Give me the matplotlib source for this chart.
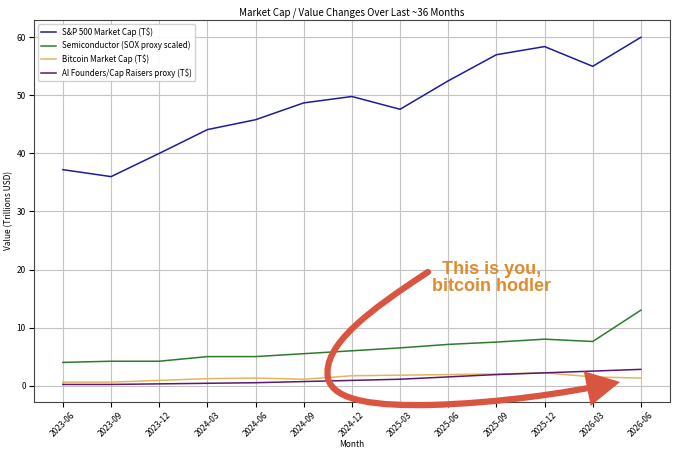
import matplotlib
matplotlib.use("Agg")
import matplotlib.pyplot as plt
from matplotlib.path import Path
from matplotlib.patches import FancyArrowPatch

months = ["2023-06", "2023-09", "2023-12", "2024-03", "2024-06", "2024-09", "2024-12",
          "2025-03", "2025-06", "2025-09", "2025-12", "2026-03", "2026-06"]
sp500 = [37.2, 36.0, 40.0, 44.1, 45.8, 48.7, 49.8, 47.6, 52.5, 57.0, 58.4, 55.0, 60.0]
semis = [4.0, 4.2, 4.2, 5.0, 5.0, 5.5, 6.0, 6.5, 7.1, 7.5, 8.0, 7.6, 13.0]
bitcoin = [0.6, 0.6, 0.9, 1.2, 1.3, 1.1, 1.7, 1.8, 1.9, 2.0, 2.2, 1.5, 1.3]
ai_founders = [0.2, 0.2, 0.3, 0.4, 0.5, 0.7, 0.9, 1.1, 1.5, 1.9, 2.2, 2.5, 2.8]

plt.rcParams['font.family'] = ['Noto Sans CJK JP', 'DejaVu Sans']
plt.rcParams['font.size'] = 6

fig = plt.figure(figsize=(6.8, 4.53), dpi=100)
ax = fig.add_axes([0.050, 0.113, 0.935, 0.843])

x = list(range(len(months)))
ax.plot(x, sp500, color='#1c1c9c', lw=1.1, label='S&P 500 Market Cap (T$)')
ax.plot(x, semis, color='#2e7a2e', lw=1.1, label='Semiconductor (SOX proxy scaled)')
ax.plot(x, bitcoin, color='#e6b45c', lw=1.1, label='Bitcoin Market Cap (T$)')
ax.plot(x, ai_founders, color='#5a1870', lw=1.1, label='AI Founders/Cap Raisers proxy (T$)')

ax.set_xticks(x)
ax.set_xticklabels(months, rotation=45)
ax.set_yticks([0, 10, 20, 30, 40, 50, 60])
ax.grid(True, color='#c4c4c4', lw=0.8)
ax.set_axisbelow(True)
ax.set_title('Market Cap / Value Changes Over Last ~36 Months', fontsize=7, pad=3.5)
ax.set_xlabel('Month', fontsize=6, labelpad=1)
ax.set_ylabel('Value (Trillions USD)', fontsize=6, labelpad=2)
ax.tick_params(labelsize=6, pad=2.5)
for s in ax.spines.values():
    s.set_color('#444444')
ax.legend(loc='upper left', fontsize=5.8, framealpha=0.9, handlelength=1.8)

W, H = 680.0, 453.0
def p(px, py):
    return (px / W, 1 - py / H)

verts = [p(428, 272),
         p(370, 310), p(322, 345), p(328, 378),
         p(333, 402), p(380, 406), p(430, 405),
         p(500, 403), p(565, 393), p(620, 382)]
codes = [Path.MOVETO] + [Path.CURVE4] * 9
arrow = FancyArrowPatch(path=Path(verts, codes), transform=fig.transFigure,
                        arrowstyle='-|>,head_length=0.85,head_width=0.45', mutation_scale=20,
                        color='#d9553f', lw=4.5, capstyle='round', joinstyle='miter')
fig.patches.append(arrow)

fig.text(492 / W, 1 - 278 / H, 'This is you,\nbitcoin hodler', ha='center', va='center',
         fontsize=13, fontweight='bold', color='#e08b2c', family=['Liberation Sans', 'DejaVu Sans'],
         linespacing=1.05)

fig.savefig('out.png', dpi=100)
